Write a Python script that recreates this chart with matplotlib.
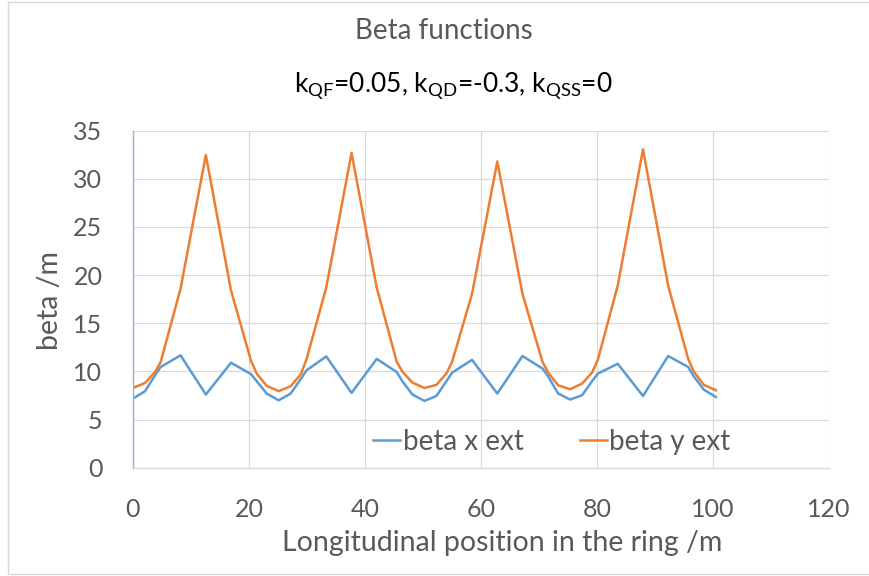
import matplotlib
matplotlib.use("Agg")
import matplotlib.pyplot as plt
from matplotlib.patches import Rectangle

plt.rcParams["font.family"] = ["Lato", "DejaVu Sans"]

# -----------------------------
# Data
# -----------------------------

position = [
    0.0, 2.07, 3.8, 4.77, 8.2, 12.56, 16.9, 20.35, 21.3, 23.05,
    25.12, 27.19, 28.92, 29.89, 33.32, 37.68, 42.02, 45.47, 46.42, 48.17,
    50.25, 52.32, 54.05, 55.02, 58.45, 62.81, 67.15, 70.6, 71.55, 73.3,
    75.37, 77.44, 79.17, 80.14, 83.57, 87.93, 92.27, 95.72, 96.67, 98.42,
    100.5,
]

beta_x = [
    7.18, 7.94, 9.6, 10.46, 11.67, 7.6, 10.9, 9.72, 9.0, 7.7,
    7.0, 7.7, 9.2, 10.1, 11.56, 7.77, 11.3, 9.94, 9.0, 7.6,
    6.94, 7.45, 9.0, 9.87, 11.2, 7.7, 11.6, 10.3, 9.5, 7.7,
    7.08, 7.53, 9.0, 9.77, 10.8, 7.45, 11.6, 10.46, 9.5, 8.1,
    7.35,
]

beta_y = [
    8.28, 8.8, 9.94, 10.97, 18.6, 32.47, 18.4, 11.1, 9.8, 8.5,
    7.95, 8.46, 9.7, 11.2, 18.7, 32.7, 18.7, 11.0, 10.0, 8.84,
    8.28, 8.6, 9.8, 11.0, 18.05, 31.8, 18.05, 11.0, 9.9, 8.56,
    8.15, 8.74, 9.9, 11.2, 18.9, 33.06, 18.9, 11.3, 10.0, 8.6,
    8.04,
]

x_ticks = [0, 20, 40, 60, 80, 100, 120]
y_ticks = [0, 5, 10, 15, 20, 25, 30, 35]

text_grey = "#595959"
grid_grey = "#D9D9D9"


# -----------------------------
# Figure and axes
# -----------------------------

fig = plt.figure(figsize=(8.69, 5.76), dpi=100)

ax = fig.add_axes([133 / 869, 1 - 467.7 / 576, 696 / 869, 337 / 576])

ax.plot(position, beta_x, color="#5B9BD5", linewidth=1.8,
        label="beta x ext", solid_joinstyle="round")
ax.plot(position, beta_y, color="#ED7D31", linewidth=1.8,
        label="beta y ext", solid_joinstyle="round")

ax.set_xlim(0, 120)
ax.set_ylim(0, 35)
ax.set_xticks(x_ticks)
ax.set_yticks(y_ticks)

ax.grid(True, color=grid_grey, linewidth=0.8)
ax.set_axisbelow(True)

for side in ["top", "right"]:
    ax.spines[side].set_visible(False)
ax.spines["left"].set_color("#8FB4DE")
ax.spines["left"].set_linewidth(1.0)
ax.spines["bottom"].set_color(grid_grey)
ax.spines["bottom"].set_linewidth(1.0)

ax.tick_params(axis="both", length=0, labelsize=18, labelcolor=text_grey)
ax.tick_params(axis="x", pad=22)
ax.tick_params(axis="y", pad=22)

ax.legend(
    loc="center",
    bbox_to_anchor=(552 / 869, 1 - 442 / 576),
    bbox_transform=fig.transFigure,
    ncol=2,
    frameon=False,
    fontsize=20,
    handlelength=0.97,
    handletextpad=0.1,
    columnspacing=2.0,
    labelcolor=text_grey,
)


# -----------------------------
# Titles and axis labels
# -----------------------------

fig.text(444 / 869, 1 - 39 / 576, "Beta functions",
         ha="center", va="baseline", fontsize=20, color=text_grey)

fig.text(
    453 / 869, 1 - 92 / 576,
    r"k$_{\mathregular{QF}}$=0.05, k$_{\mathregular{QD}}$=-0.3, "
    r"k$_{\mathregular{QSS}}$=0",
    ha="center", va="baseline", fontsize=19, color="black",
)

fig.text(502 / 869, 1 - 551 / 576, "Longitudinal position in the ring /m",
         ha="center", va="baseline", fontsize=20.5, color=text_grey)

fig.text(50 / 869, 1 - 300 / 576, "beta /m", rotation=90,
         ha="center", va="center", fontsize=20.5, color=text_grey)

# chart area border
fig.patches.append(
    Rectangle((8 / 869, 2 / 576), 1.0, 1 - 4 / 576,
              transform=fig.transFigure, fill=False,
              edgecolor=grid_grey, linewidth=1.0)
)

plt.savefig("out.png", dpi=100)
plt.close()
